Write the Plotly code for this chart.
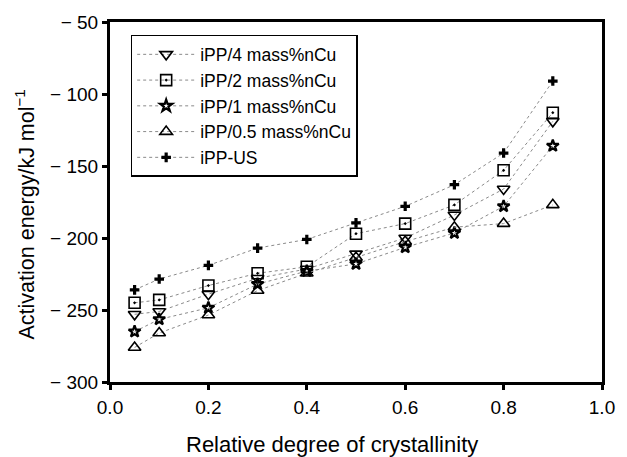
import plotly.graph_objects as go

x_vals = [0.05, 0.1, 0.2, 0.3, 0.4, 0.5, 0.6, 0.7, 0.8, 0.9]
names = ["iPP/4 mass%nCu", "iPP/2 mass%nCu", "iPP/1 mass%nCu", "iPP/0.5 mass%nCu", "iPP-US"]
e_4 = [-253, -251, -239, -228, -221.5, -211, -200, -184, -166, -119]
e_2 = [-245, -243, -233, -224.5, -220, -197, -190, -177, -153, -113]
e_1 = [-265, -256.5, -248.5, -232, -223, -218, -206.5, -196.5, -178, -136]
e_05 = [-276, -266, -253.5, -236.5, -224.5, -213.5, -202.5, -192.5, -190, -177]
e_us = [-236, -228.5, -219, -207, -201, -189.5, -178, -163, -141, -91]
y_ticks = [-50, -100, -150, -200, -250, -300]
y_ticktext = ["\u2212 " + str(abs(v)) for v in y_ticks]
x_ticks = [0.0, 0.2, 0.4, 0.6, 0.8, 1.0]
x_title = "Relative degree of crystallinity"
y_title = "Activation energy/kJ mol<sup>\u22121</sup>"

series = [e_4, e_2, e_1, e_05, e_us]
symbols = ["triangle-down-open", "square-open-dot", "star-open", "triangle-up-open", "cross"]
sizes = [11, 11, 9, 11, 8]
lws = [1.6, 1.6, 2.2, 1.6, 0]

fig = go.Figure()
for nm, ys, sym, sz, lw in zip(names, series, symbols, sizes, lws):
    fig.add_trace(go.Scatter(
        x=x_vals, y=ys, name=nm, mode="lines+markers",
        line=dict(color="#8a8a8a", width=1, dash="dot"),
        marker=dict(symbol=sym, size=sz, color="black",
                    line=dict(color="black", width=lw)),
    ))

fig.update_layout(
    width=627, height=457,
    margin=dict(l=110, r=16, t=20, b=75),
    paper_bgcolor="white", plot_bgcolor="white",
    font=dict(family="Liberation Sans, Arial, sans-serif", size=19, color="black"),
    showlegend=True,
    legend=dict(x=0.042, y=0.964, xanchor="left", yanchor="top",
                bordercolor="black", borderwidth=1.5, bgcolor="white",
                font=dict(size=17.5), tracegroupgap=0, itemwidth=58),
    annotations=[
        dict(text=x_title, xref="paper", yref="paper", x=0.451, y=-0.174,
             xanchor="center", yanchor="middle", showarrow=False,
             font=dict(size=22)),
        dict(text=y_title, xref="paper", yref="paper", x=-0.1737, y=0.464,
             xanchor="center", yanchor="middle", showarrow=False, textangle=-90,
             font=dict(size=21.5)),
    ],
)
fig.update_xaxes(
    range=[0, 1], tickvals=x_ticks, tickformat=".1f",
    showline=True, linecolor="black", linewidth=3, mirror=True,
    ticks="outside", ticklen=5, tickwidth=3, tickcolor="black",
    ticklabelstandoff=1,
    showgrid=False, zeroline=False,
)
fig.update_yaxes(
    range=[-300, -50], tickvals=y_ticks, ticktext=y_ticktext,
    showline=True, linecolor="black", linewidth=3, mirror=True,
    ticks="outside", ticklen=5, tickwidth=3, tickcolor="black",
    showgrid=False, zeroline=False,
)
fig.write_html("out.html")
